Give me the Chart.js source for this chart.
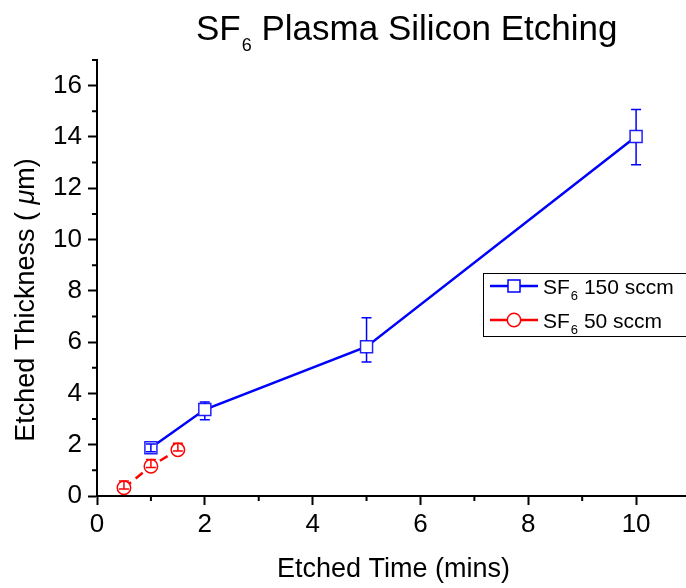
<!DOCTYPE html>
<html>
<head>
<meta charset="utf-8">
<script src="https://cdn.jsdelivr.net/npm/chart.js@4.4.1/dist/chart.umd.min.js"></script>
<style>
  html, body { margin: 0; padding: 0; background: #fff; overflow: hidden; }
  #wrap { width: 700px; height: 588px; }
</style>
</head>
<body>
<div id="wrap"><canvas id="chart" width="700" height="588"></canvas></div>
<script>
// data
const time150 = [1, 2, 5, 10];
const thick150 = [1.88, 3.37, 5.82, 14.02];
const err150Up = [0.15, 0.3, 1.13, 1.05];
const err150Down = [0.15, 0.4, 0.6, 1.1];

const time50 = [0.5, 1, 1.5];
const thick50 = [0.32, 1.16, 1.8];
const err50Up = [0.26, 0.26, 0.26];
const err50Down = [0.05, 0.05, 0.05];

const xTicks = [0, 2, 4, 6, 8, 10];
const yTicks = [0, 2, 4, 6, 8, 10, 12, 14, 16];
const xMinor = [1, 3, 5, 7, 9, 11];
const yMinor = [1, 3, 5, 7, 9, 11, 13, 15, 17];

const FONT = '"Liberation Sans", Arial, sans-serif';
const BLUE = '#0000ff';
const RED = '#ff0000';

const errorBars = [
    { x: time150, y: thick150, up: err150Up, down: err150Down, color: BLUE, half: 6 },
    { x: time50, y: thick50, up: err50Up, down: err50Down, color: RED, half: 6.7 }
];

// error bars, drawn on top of the markers (only the part outside the marker
// unless the whole bar sits inside it)
const errorBarPlugin = {
    id: 'errorBars',
    afterDatasetsDraw(chart) {
        const ctx = chart.ctx;
        const xs = chart.scales.x, ys = chart.scales.y;
        ctx.save();
        ctx.lineWidth = 1.5;
        errorBars.forEach(set => {
            ctx.strokeStyle = set.color;
            set.x.forEach((xv, i) => {
                const px = xs.getPixelForValue(xv);
                const pc = ys.getPixelForValue(set.y[i]);
                const pt = ys.getPixelForValue(set.y[i] + set.up[i]);
                const pb = ys.getPixelForValue(set.y[i] - set.down[i]);
                ctx.beginPath();
                if (pc - pt > set.half) {
                    ctx.moveTo(px, pt); ctx.lineTo(px, pc - set.half);
                } else {
                    ctx.moveTo(px, pt); ctx.lineTo(px, pc);
                }
                if (pb - pc > set.half) {
                    ctx.moveTo(px, pc + set.half); ctx.lineTo(px, pb);
                } else {
                    ctx.moveTo(px, pc); ctx.lineTo(px, pb);
                }
                ctx.moveTo(px - 5, pt); ctx.lineTo(px + 5, pt);
                ctx.moveTo(px - 5, pb); ctx.lineTo(px + 5, pb);
                ctx.stroke();
            });
        });
        ctx.restore();
    }
};

// minor ticks, titles with subscripts and the legend box
const decorPlugin = {
    id: 'decor',
    afterDraw(chart) {
        const ctx = chart.ctx;
        const xs = chart.scales.x, ys = chart.scales.y;
        const area = chart.chartArea;
        ctx.save();
        ctx.strokeStyle = '#000';
        ctx.lineWidth = 2;
        ctx.beginPath();
        xMinor.forEach(v => {
            const p = xs.getPixelForValue(v);
            ctx.moveTo(p, area.bottom); ctx.lineTo(p, area.bottom + 5);
        });
        yMinor.forEach(v => {
            const p = ys.getPixelForValue(v);
            ctx.moveTo(area.left, p); ctx.lineTo(area.left - 5, p);
        });
        ctx.stroke();

        // chart title
        ctx.fillStyle = '#000';
        ctx.textBaseline = 'alphabetic';
        ctx.textAlign = 'left';
        let x = 196;
        ctx.font = '35px ' + FONT;
        ctx.fillText('SF', x, 40);
        x += ctx.measureText('SF').width + 1;
        ctx.font = '18px ' + FONT;
        ctx.fillText('6', x, 51);
        x += ctx.measureText('6').width;
        ctx.font = '35px ' + FONT;
        ctx.fillText(' Plasma Silicon Etching', x, 40);

        // y axis title
        const parts = [
            ['Etched Thickness ( ', '27px ' + FONT],
            ['\u03bc', 'italic 27px ' + FONT],
            ['m)', '27px ' + FONT]
        ];
        let total = 0;
        parts.forEach(p => { ctx.font = p[1]; total += ctx.measureText(p[0]).width; });
        ctx.translate(34, 300);
        ctx.rotate(-Math.PI / 2);
        let tx = -total / 2;
        parts.forEach(p => {
            ctx.font = p[1];
            ctx.fillText(p[0], tx, 0);
            tx += ctx.measureText(p[0]).width;
        });
        ctx.setTransform(1, 0, 0, 1, 0, 0);

        // legend
        ctx.lineWidth = 1;
        ctx.strokeStyle = '#000';
        ctx.strokeRect(483.5, 273.5, 250, 63);
        const rows = [
            { y: 286, color: BLUE, label: ' 150 sccm', style: 'rect' },
            { y: 320, color: RED, label: ' 50 sccm', style: 'circle' }
        ];
        rows.forEach(r => {
            ctx.strokeStyle = r.color;
            ctx.lineWidth = 2.5;
            ctx.beginPath();
            ctx.moveTo(490, r.y); ctx.lineTo(538, r.y);
            ctx.stroke();
            ctx.lineWidth = 1.5;
            ctx.fillStyle = '#fff';
            ctx.beginPath();
            if (r.style === 'rect') {
                ctx.rect(508, r.y - 6, 12, 12);
            } else {
                ctx.arc(514, r.y, 6.7, 0, Math.PI * 2);
            }
            ctx.fill();
            ctx.stroke();
            ctx.fillStyle = '#000';
            let lx = 543;
            ctx.font = '21px ' + FONT;
            ctx.fillText('SF', lx, r.y + 7.5);
            lx += ctx.measureText('SF').width + 1;
            ctx.font = '13px ' + FONT;
            ctx.fillText('6', lx, r.y + 14);
            lx += ctx.measureText('6').width;
            ctx.font = '21px ' + FONT;
            ctx.fillText(r.label, lx, r.y + 7.5);
        });
        ctx.restore();
    }
};

const axisBase = {
    type: 'linear',
    grid: { drawOnChartArea: false, drawTicks: true, tickLength: 9, tickColor: '#000', tickWidth: 2 },
    border: { color: '#000', width: 2 },
};

new Chart(document.getElementById('chart'), {
    type: 'line',
    data: {
        datasets: [
            {
                label: 'SF6 150 sccm',
                data: time150.map((t, i) => ({ x: t, y: thick150[i] })),
                borderColor: BLUE,
                borderWidth: 2.5,
                pointStyle: 'rect',
                pointRadius: 8.5,
                pointBorderWidth: 1.5,
                pointBorderColor: '#2020ff',
                pointBackgroundColor: '#fff',
                tension: 0
            },
            {
                label: 'SF6 50 sccm',
                data: time50.map((t, i) => ({ x: t, y: thick50[i] })),
                borderColor: RED,
                borderWidth: 2.5,
                borderDash: [9, 6],
                pointStyle: 'circle',
                pointRadius: 6.7,
                pointBorderWidth: 1.5,
                pointBorderColor: RED,
                pointBackgroundColor: '#fff',
                tension: 0
            }
        ]
    },
    options: {
        responsive: false,
        animation: false,
        layout: { padding: { top: 60, right: 10, left: 0, bottom: 0 } },
        plugins: { legend: { display: false }, tooltip: { enabled: false }, title: { display: false } },
        scales: {
            x: {
                ...axisBase,
                min: 0, max: 11,
                afterBuildTicks: s => { s.ticks = xTicks.map(v => ({ value: v })); },
                afterFit: s => { s.height = 92; },
                ticks: { color: '#000', font: { size: 26, family: FONT }, padding: 4, maxRotation: 0 },
                title: { display: true, text: 'Etched Time (mins)', color: '#000', font: { size: 27, family: FONT }, padding: { top: 0, bottom: 2 } }
            },
            y: {
                ...axisBase,
                min: 0, max: 17,
                afterBuildTicks: s => { s.ticks = yTicks.map(v => ({ value: v })); },
                afterFit: s => { s.width = 97; },
                ticks: { color: '#000', font: { size: 26, family: FONT }, padding: 6 }
            }
        }
    },
    plugins: [errorBarPlugin, decorPlugin]
});
</script>
</body>
</html>
